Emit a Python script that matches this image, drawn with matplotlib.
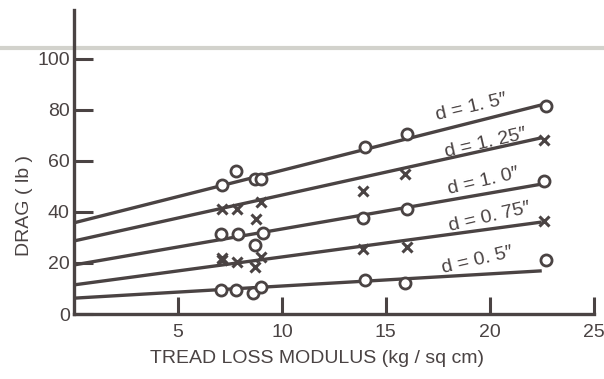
import matplotlib
matplotlib.use("Agg")
import matplotlib.pyplot as plt
from matplotlib.lines import Line2D

plt.rcParams['font.family'] = ['Liberation Sans', 'DejaVu Sans']

INK = '#4a4343'

# Series: tread depth labels, measured points, and fitted lines
labels = ["d = 1. 5\u2033", "d = 1. 25\u2033", "d = 1. 0\u2033", "d = 0. 75\u2033", "d = 0. 5\u2033"]
markers = ['o', 'x', 'o', 'x', 'o']

x_15 = [7.1, 7.8, 8.7, 9.0, 14.0, 16.0, 22.7]
y_15 = [50.6, 56.0, 53.0, 53.0, 65.5, 70.6, 81.6]
x_125 = [7.1, 7.85, 8.75, 9.0, 13.9, 15.9, 22.6]
y_125 = [41.0, 41.0, 37.0, 44.0, 48.0, 55.0, 68.0]
x_10 = [7.07, 7.9, 8.7, 9.1, 13.9, 16.0, 22.6]
y_10 = [31.4, 31.4, 27.0, 31.8, 37.6, 41.0, 52.0]
x_075 = [7.1, 7.1, 7.85, 8.7, 9.0, 13.9, 16.0, 22.6]
y_075 = [22.0, 21.0, 20.4, 18.4, 22.4, 25.5, 26.3, 36.5]
x_05 = [7.07, 7.8, 8.6, 9.0, 14.0, 15.9, 22.7]
y_05 = [9.4, 9.4, 8.2, 10.6, 13.3, 12.2, 21.2]

# fitted line endpoints
fit_x = [[0, 22.7], [0, 22.5], [0, 22.6], [0, 22.5], [0, 22.5]]
fit_y = [[35.7, 82.3], [28.6, 69.0], [19.2, 51.0], [11.4, 36.0], [6.2, 16.9]]

# label positions
lab_x = [19.1, 19.8, 19.7, 20.0, 19.4]
lab_y = [81.0, 67.0, 52.0, 38.0, 20.8]

xs = [x_15, x_125, x_10, x_075, x_05]
ys = [y_15, y_125, y_10, y_075, y_05]

x_ticks = [5, 10, 15, 20, 25]
y_ticks = [0, 20, 40, 60, 80, 100]

fig = plt.figure(figsize=(6.04, 3.79), dpi=100)
ax = fig.add_axes([0.1225, 0.1715, 0.8605, 0.802])
ax.set_facecolor('none')
ax.set_xlim(0, 25)
ax.set_ylim(0, 119)

for fx, fy in zip(fit_x, fit_y):
    ax.plot(fx, fy, color=INK, lw=2.4, solid_capstyle='butt', zorder=2)

for x, y, m in zip(xs, ys, markers):
    if m == 'o':
        ax.plot(x, y, 'o', ms=8, mfc='white', mec=INK, mew=2.0, ls='none', zorder=3)
    else:
        ax.plot(x, y, 'x', ms=6.5, mec=INK, mew=2.2, ls='none', zorder=3)

for t, lx, ly in zip(labels, lab_x, lab_y):
    ax.text(lx, ly, t, rotation=13, ha='center', va='center', fontsize=14,
            color=INK, rotation_mode='anchor')

for s in ['top', 'right']:
    ax.spines[s].set_visible(False)
for s in ['left', 'bottom']:
    ax.spines[s].set_color(INK)
    ax.spines[s].set_linewidth(2.4)

ax.set_xticks(x_ticks)
ax.set_yticks(y_ticks)
ax.tick_params(axis='x', direction='in', length=12, width=2.2, colors=INK,
               labelsize=14, pad=7)
ax.tick_params(axis='y', direction='in', length=14, width=2.2, colors=INK,
               labelsize=14, pad=3)

ax.set_xlabel('TREAD LOSS MODULUS (kg / sq cm)', fontsize=14, color=INK, va='top')
ax.xaxis.set_label_coords(0.467, -0.12)
ax.set_ylabel('DRAG ( lb )', fontsize=14, color=INK)
ax.yaxis.set_label_coords(-0.079, 0.358)

# scanning artifact line across the page
fig.add_artist(Line2D([0, 1], [1 - 48 / 379, 1 - 48 / 379], transform=fig.transFigure,
                      color='#d2d2cc', lw=3, zorder=0))

fig.savefig('out.png', dpi=100, facecolor='white')
